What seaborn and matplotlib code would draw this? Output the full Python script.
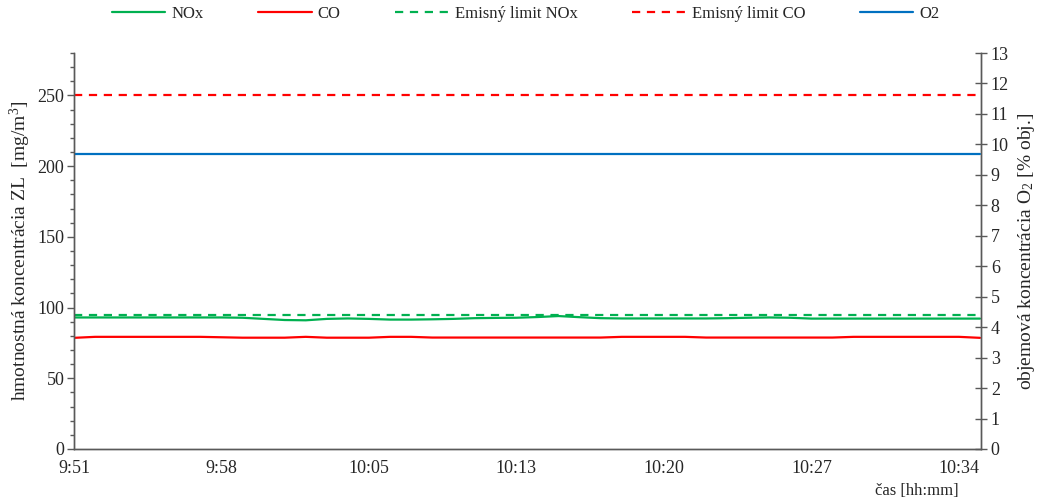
import matplotlib
matplotlib.use('Agg')
import matplotlib.pyplot as plt
import seaborn as sns
import pandas as pd
from matplotlib.ticker import MultipleLocator, FixedLocator

# Data (minutes since 9:51)
minutes = list(range(44))
nox = [93.0, 93.0, 93.0, 93.0, 93.0, 93.0, 93.0, 93.0, 92.8, 92.0,
       91.2, 91.0, 92.0, 92.3, 92.0, 91.5, 91.5, 91.7, 92.0, 92.5,
       92.7, 92.8, 93.3, 94.0, 93.2, 92.5, 92.3, 92.3, 92.3, 92.3,
       92.3, 92.5, 92.8, 93.0, 92.8, 92.2, 92.2, 92.2, 92.2, 92.2,
       92.2, 92.2, 92.2, 92.2]
co = [78.6, 79.3, 79.3, 79.3, 79.3, 79.3, 79.3, 79.0, 78.7, 78.7,
      78.7, 79.3, 78.7, 78.7, 78.7, 79.3, 79.3, 78.8, 78.8, 78.8,
      78.8, 78.8, 78.8, 78.8, 78.8, 78.8, 79.3, 79.3, 79.3, 79.3,
      78.8, 78.8, 78.8, 78.8, 78.8, 78.8, 78.8, 79.3, 79.3, 79.3,
      79.3, 79.3, 79.3, 78.6]
o2 = [9.7] * 44
limit_nox = [95] * 44
limit_co = [250] * 44
tick_labels = ['9:51', '9:58', '10:05', '10:13', '10:20', '10:27', '10:34']

df = pd.DataFrame({'t': minutes, 'NOx': nox, 'CO': co, 'O2': o2,
                   'lim_nox': limit_nox, 'lim_co': limit_co})

sns.set_style('white')
plt.rcParams['font.family'] = ['Liberation Serif', 'DejaVu Serif']
plt.rcParams['mathtext.default'] = 'regular'

green = '#00B050'
red = '#FF0000'
blue = '#0070C0'
axcol = '#595959'
dash = (0, (3.7, 3))

fig = plt.figure(figsize=(10.45, 5.01), dpi=100)
ax = fig.add_axes([0.0708, 0.1038, 0.868, 0.7904])
ax2 = ax.twinx()

sns.lineplot(data=df, x='t', y='NOx', ax=ax, color=green, lw=1.6, label='NOx')
sns.lineplot(data=df, x='t', y='CO', ax=ax, color=red, lw=1.6, label='CO')
sns.lineplot(data=df, x='t', y='lim_nox', ax=ax, color=green, lw=1.6,
             linestyle=dash, label='Emisný limit NOx')
sns.lineplot(data=df, x='t', y='lim_co', ax=ax, color=red, lw=1.6,
             linestyle=dash, label='Emisný limit CO')
sns.lineplot(data=df, x='t', y='O2', ax=ax2, color=blue, lw=1.6, label='O2')

ax.set_xlim(0, 43.05)
ax.set_ylim(0, 280)
ax2.set_ylim(0, 13)

ax.xaxis.set_major_locator(FixedLocator([0, 7, 14, 21, 28, 35, 42]))
ax.set_xticklabels(tick_labels)
ax.xaxis.set_minor_locator(MultipleLocator(1.4))
ax.yaxis.set_major_locator(MultipleLocator(50))
ax.yaxis.set_minor_locator(MultipleLocator(10))
ax2.yaxis.set_major_locator(MultipleLocator(1))

ax.tick_params(axis='x', which='both', direction='out', length=5, width=1,
               color=axcol, labelsize=13, pad=3)
ax.tick_params(axis='y', which='major', direction='out', length=5, width=1,
               color=axcol, labelsize=13, pad=2)
ax.tick_params(axis='y', which='minor', direction='out', length=3, width=1,
               color=axcol, left=True)
ax2.tick_params(axis='y', which='major', direction='inout', length=8, width=1,
                color=axcol, labelsize=13, pad=3)

for a in (ax, ax2):
    for side in ('left', 'right', 'bottom'):
        a.spines[side].set_color(axcol)
        a.spines[side].set_linewidth(1)
    a.spines['top'].set_visible(False)

ax.set_ylabel('hmotnostná koncentrácia ZL  [mg/m$^3$]', fontsize=14, labelpad=3)
ax2.set_ylabel('objemová koncentrácia O$_2$ [% obj.]', fontsize=14, labelpad=5)
ax.set_xlabel('čas [hh:mm]', fontsize=12)
ax.xaxis.set_label_coords(0.975, -0.085)
ax.xaxis.label.set_horizontalalignment('right')

h1, l1 = ax.get_legend_handles_labels()
h2, l2 = ax2.get_legend_handles_labels()
ax.get_legend().remove()
ax2.get_legend().remove()
fig.legend(h1 + h2, l1 + l2, loc='center', bbox_to_anchor=(0.503, 0.972),
           ncol=5, frameon=False, fontsize=12, handlelength=3.2,
           handletextpad=0.35, columnspacing=3.3)

fig.savefig('out.png', dpi=100)
